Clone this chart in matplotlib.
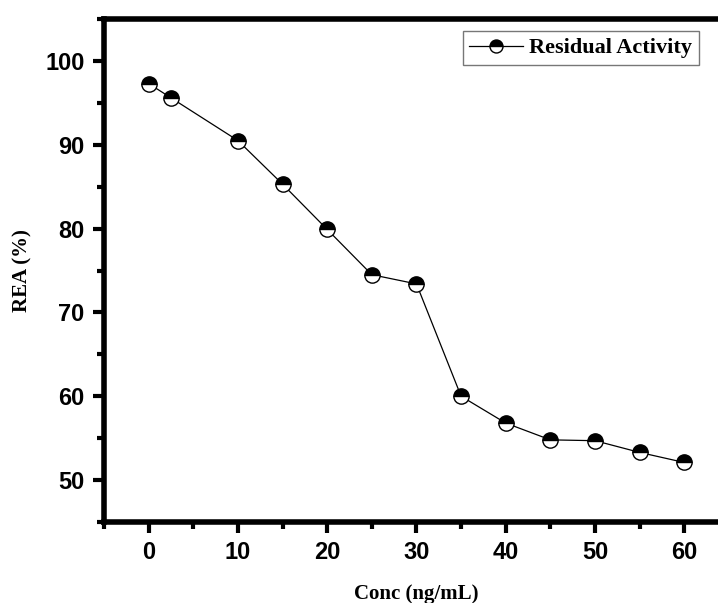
import matplotlib
matplotlib.use("Agg")
import matplotlib.pyplot as plt
from matplotlib.ticker import MultipleLocator

conc = [0, 2.5, 10, 15, 20, 25, 30, 35, 40, 45, 50, 55, 60]
rea = [97.3, 95.6, 90.5, 85.3, 79.9, 74.5, 73.4, 60.0, 56.8, 54.8, 54.7, 53.3, 52.1]

fig = plt.figure(figsize=(7.18, 6.03), dpi=100)
# right spine runs past the image edge in the original
ax = fig.add_axes([0.1448, 0.1343, 0.8705, 0.8342])

ax.plot(conc, rea, color="black", lw=0.9, marker="o", markersize=11,
        fillstyle="top", markerfacecolor="black", markerfacecoloralt="white",
        markeredgecolor="black", markeredgewidth=1.0, label="Residual Activity")

ax.set_xlim(-5, 65)
ax.set_ylim(45, 105)
ax.xaxis.set_major_locator(MultipleLocator(10))
ax.xaxis.set_minor_locator(MultipleLocator(5))
ax.yaxis.set_major_locator(MultipleLocator(10))
ax.yaxis.set_minor_locator(MultipleLocator(5))

for s in ax.spines.values():
    s.set_linewidth(4)
ax.tick_params(which="major", direction="out", length=8, width=3, pad=6)
ax.tick_params(which="minor", direction="out", length=5, width=3)

for lab in ax.get_xticklabels() + ax.get_yticklabels():
    lab.set_family("Liberation Sans")
    lab.set_weight("bold")
    lab.set_fontsize(17)

ax.set_xlabel("Conc (ng/mL)", family="Liberation Serif", weight="bold",
              fontsize=15, labelpad=14)
ax.set_ylabel("REA (%)", family="Liberation Serif", weight="bold",
              fontsize=15, labelpad=9)

leg = ax.legend(loc="upper right", bbox_to_anchor=(0.952, 0.976), frameon=True,
                fancybox=False, edgecolor="#555555", handlelength=2.4,
                handletextpad=0.3, borderpad=0.3, borderaxespad=0,
                markerscale=0.85,
                prop={"family": "Liberation Serif", "weight": "bold", "size": 16})
leg.get_frame().set_linewidth(1.0)

fig.savefig("out.png", dpi=100)
